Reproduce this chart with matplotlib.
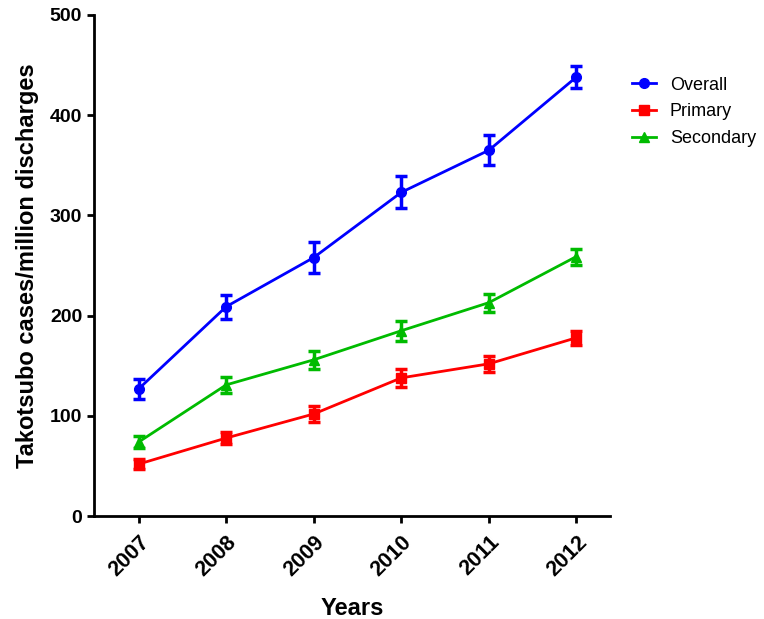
import matplotlib
matplotlib.use('Agg')
import matplotlib.pyplot as plt
from matplotlib.lines import Line2D

plt.rcParams['font.family'] = ['Liberation Sans', 'DejaVu Sans']

years = [2007, 2008, 2009, 2010, 2011, 2012]

overall = [127, 209, 258, 323, 365, 438]
overall_err = [10, 12, 15, 16, 15, 11]
primary = [52, 78, 102, 138, 152, 178]
primary_err = [5, 6, 8, 9, 8, 7]
secondary = [74, 131, 156, 185, 213, 259]
secondary_err = [6, 8, 9, 10, 9, 8]

fig = plt.figure(figsize=(7.64, 6.19), dpi=100)
ax = fig.add_axes([0.123, 0.166, 0.675, 0.81])

series = [
    ('Overall', overall, overall_err, '#0000ff', 'o'),
    ('Primary', primary, primary_err, '#ff0000', 's'),
    ('Secondary', secondary, secondary_err, '#00bb00', '^'),
]
handles = []
for name, vals, err, col, mk in series:
    ax.errorbar(years, vals, yerr=err, color=col, marker=mk, markersize=7,
                linewidth=2, elinewidth=2.5, capsize=4, capthick=2.5)
    handles.append(Line2D([], [], color=col, marker=mk, markersize=7, linewidth=2, label=name))

ax.set_xlim(2006.49, 2012.38)
ax.set_ylim(0, 500)
ax.set_xticks(years)
ax.set_yticks([0, 100, 200, 300, 400, 500])
ax.set_xticklabels([str(y) for y in years], rotation=45, ha='right',
                   rotation_mode='anchor', fontweight='bold', fontsize=15.5)
for lbl in ax.get_yticklabels():
    lbl.set_fontweight('bold')
    lbl.set_fontsize(14)

for s in ['top', 'right']:
    ax.spines[s].set_visible(False)
for s in ['left', 'bottom']:
    ax.spines[s].set_linewidth(2)
ax.tick_params(width=2, length=5, direction='out')
ax.tick_params(axis='x', pad=6)

ax.set_xlabel('Years', fontweight='bold', fontsize=17, labelpad=12)
ax.set_ylabel('Takotsubo cases/million discharges', fontweight='bold', fontsize=17, labelpad=8)

ax.legend(handles=handles, loc='upper left', bbox_to_anchor=(1.043, 0.877), frameon=False,
          fontsize=13, handlelength=1.35, labelspacing=0.55, handletextpad=0.75,
          borderpad=0, borderaxespad=0)

fig.savefig('out.png', dpi=100)
